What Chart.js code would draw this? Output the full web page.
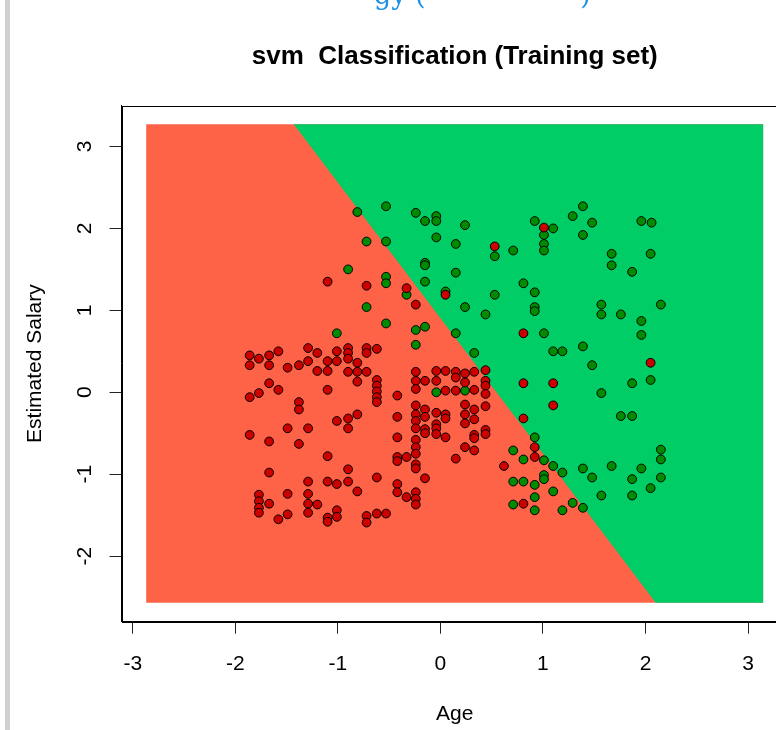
<!DOCTYPE html>
<html><head><meta charset="utf-8">
<script src="https://cdn.jsdelivr.net/npm/chart.js@4"></script>
<style>
html,body{margin:0;padding:0;background:#fff;overflow:hidden;width:776px;height:730px;}
#wrap{position:absolute;left:0;top:0;width:800px;height:730px;}
#bar{position:absolute;left:5px;top:0;width:5px;height:730px;background:#d0d0d0;}
#topclip{position:absolute;left:0;top:0;width:776px;height:13px;overflow:hidden;}
#toptext{position:absolute;left:374px;top:-21px;font:27px 'DejaVu Serif',serif;color:#1a90e6;white-space:pre;}
</style></head><body>
<div id="wrap"><canvas id="c" width="800" height="730"></canvas></div>
<div id="bar"></div>
<div id="topclip"><div id="toptext">gy (                  )</div></div>
<script>
const xTickValues = [-3, -2, -1, 0, 1, 2, 3];
const yTickValues = [-2, -1, 0, 1, 2, 3];
const panelAge = [-2.87, 3.15];
const panelSalary = [-2.57, 3.27];
const boundaryAge = [-1.43, 2.10];
const titleText = 'svm  Classification (Training set)';
const xLabel = 'Age';
const yLabel = 'Estimated Salary';

// class 0 (red) observations: [Age, EstimatedSalary] (scaled)
const class0Points = [
[-1.86,0.45],[-1.86,0.33],[-1.86,-0.06],[-1.86,-0.52],
[-1.77,0.41],[-1.77,-0.01],[-1.77,-1.25],[-1.77,-1.33],[-1.77,-1.41],[-1.77,-1.47],
[-1.67,0.45],[-1.67,0.33],[-1.67,0.11],[-1.67,-0.60],[-1.67,-0.98],[-1.67,-1.36],
[-1.58,0.50],[-1.58,0.03],[-1.58,-1.55],
[-1.49,0.30],[-1.49,-0.44],[-1.49,-1.24],[-1.49,-1.49],
[-1.38,0.33],[-1.38,-0.12],[-1.38,-0.21],[-1.38,-0.63],
[-1.29,0.54],[-1.29,0.38],[-1.29,-0.44],[-1.29,-1.09],[-1.29,-1.24],[-1.29,-1.36],[-1.29,-1.47],
[-1.20,0.48],[-1.20,0.26],[-1.20,-1.37],
[-1.10,1.35],[-1.10,0.38],[-1.10,0.26],[-1.10,0.03],[-1.10,-0.78],[-1.10,-1.09],[-1.10,-1.53],[-1.10,-1.58],
[-1.01,0.50],[-1.01,0.38],[-1.01,-0.35],[-1.01,-1.12],[-1.01,-1.44],[-1.01,-1.52],
[-0.90,0.54],[-0.90,0.48],[-0.90,0.41],[-0.90,0.25],[-0.90,-0.32],[-0.90,-0.44],[-0.90,-0.94],[-0.90,-1.09],
[-0.81,0.36],[-0.81,0.25],[-0.81,0.13],[-0.81,-0.27],[-0.81,-1.21],
[-0.72,1.30],[-0.72,0.54],[-0.72,0.48],[-0.72,0.25],[-0.72,-1.51],[-0.72,-1.59],
[-0.62,0.53],[-0.62,0.15],[-0.62,0.08],[-0.62,0.01],[-0.62,-0.06],[-0.62,-0.12],[-0.62,-1.04],[-0.62,-1.48],
[-0.53,-1.48],
[-0.42,-0.04],[-0.42,-0.30],[-0.42,-0.55],[-0.42,-0.79],[-0.42,-0.84],[-0.42,-1.12],[-0.42,-1.22],
[-0.33,1.27],[-0.33,-0.79],[-0.33,-1.28],
[-0.24,1.07],[-0.24,0.25],[-0.24,0.14],[-0.24,0.04],[-0.24,-0.16],[-0.24,-0.27],[-0.24,-0.35],[-0.24,-0.44],
[-0.24,-0.58],[-0.24,-0.67],[-0.24,-0.75],[-0.24,-0.88],[-0.24,-0.93],[-0.24,-1.22],[-0.24,-1.30],[-0.24,-1.37],
[-0.15,0.14],[-0.15,-0.21],[-0.15,-0.30],[-0.15,-0.45],[-0.15,-0.50],[-0.15,-1.05],
[-0.04,0.26],[-0.04,0.14],[-0.04,-0.25],[-0.04,-0.39],[-0.04,-0.44],[-0.04,-0.51],
[0.05,1.19],[0.05,0.26],[0.05,0.02],[0.05,-0.27],[0.05,-0.32],[0.05,-0.55],
[0.15,0.25],[0.15,0.18],[0.15,0.02],[0.15,-0.81],
[0.24,0.23],[0.24,0.12],[0.24,-0.15],[0.24,-0.27],[0.24,-0.38],[0.24,-0.67],
[0.33,0.25],[0.33,0.03],[0.33,-0.21],[0.33,-0.33],[0.33,-0.52],[0.33,-0.56],[0.33,-0.71],
[0.44,0.27],[0.44,0.14],[0.44,0.08],[0.44,-0.02],[0.44,-0.17],[0.44,-0.46],[0.44,-0.51],
[1.01,2.01],[0.53,1.78],[0.81,0.72],[2.05,0.36],[1.10,0.11],[0.81,0.11],[1.10,-0.16],[0.81,-0.32],
[0.92,-0.67],[0.92,-0.79],[0.62,-0.90],[0.81,-1.36]
];

// class 1 (green) observations
const class1Points = [
[-0.81,2.20],[-0.90,1.50],[-1.01,0.72],[-0.53,2.27],[-0.24,2.19],[-0.15,2.09],[-0.04,2.15],[-0.04,2.09],
[0.24,2.04],[0.92,2.09],[1.10,2.00],[1.01,1.92],[1.01,1.81],[1.01,1.73],[-0.72,1.84],[-0.53,1.84],
[-0.04,1.89],[0.15,1.81],[0.53,1.66],[0.71,1.73],[-0.15,1.58],[-0.15,1.55],[0.15,1.46],[-0.53,1.41],
[-0.53,1.33],[-0.15,1.35],[-0.33,1.19],[0.05,1.23],[0.81,1.33],[0.92,1.22],[0.53,1.19],[-0.72,1.04],
[0.24,1.04],[0.92,1.04],[0.92,0.99],[0.44,0.95],[-0.53,0.84],[-0.15,0.80],[-0.24,0.76],[0.15,0.72],
[1.01,0.72],[-0.24,0.58],[0.33,0.48],[1.10,0.50],[1.39,2.27],[1.29,2.15],[1.48,2.07],[1.39,1.92],
[1.96,2.09],[2.06,2.07],[1.67,1.69],[1.67,1.55],[2.05,1.69],[1.87,1.47],[1.57,1.07],[1.57,0.95],
[1.76,0.95],[2.15,1.07],[1.96,0.87],[1.96,0.70],[1.39,0.56],[1.19,0.50],[1.48,0.33],[1.87,0.11],
[2.05,0.15],[1.57,-0.01],[1.76,-0.29],[1.87,-0.29],[2.15,-0.70],[2.15,-0.82],[1.01,-0.83],[1.10,-0.90],
[1.19,-0.98],[1.39,-0.93],[1.67,-0.90],[1.96,-0.93],[2.15,-1.04],[1.48,-1.04],[1.87,-1.06],[1.01,-1.01],
[1.01,-1.06],[1.10,-1.21],[2.05,-1.17],[1.57,-1.26],[1.87,-1.26],[1.29,-1.35],[1.39,-1.41],[1.19,-1.44],
[-0.04,0.00],[0.24,0.02],[0.71,-0.71],[0.81,-0.82],[0.92,-0.55],[0.71,-1.09],[0.81,-1.09],[0.92,-1.13],
[0.92,-1.28],[0.71,-1.37],[0.92,-1.44]
];

const FONT = "'Liberation Sans', Arial, sans-serif";
const toXY = arr => arr.map(p => ({x: p[0], y: p[1]}));

const framePlugin = {
  id: 'frame',
  afterDraw(chart) {
    const {ctx, chartArea: a} = chart;
    ctx.save();
    ctx.strokeStyle = '#000';
    ctx.lineWidth = 1;
    ctx.strokeRect(Math.round(a.left) + 0.5, Math.round(a.top) + 0.5,
                   Math.round(a.right - a.left), Math.round(a.bottom - a.top));
    ctx.restore();
  }
};

new Chart(document.getElementById('c'), {
  type: 'scatter',
  data: {
    datasets: [
      {
        type: 'line', label: 'class0 region', order: 4,
        data: [{x: panelAge[0], y: panelSalary[1]}, {x: panelAge[1], y: panelSalary[1]}],
        fill: {value: panelSalary[0]}, backgroundColor: '#FF6347',
        borderWidth: 0, borderColor: 'rgba(0,0,0,0)', pointRadius: 0
      },
      {
        type: 'line', label: 'class1 region', order: 3,
        data: [{x: boundaryAge[0], y: panelSalary[1]}, {x: boundaryAge[1], y: panelSalary[0]}, {x: panelAge[1], y: panelSalary[0]}],
        fill: {value: panelSalary[1]}, backgroundColor: '#00CD66',
        borderWidth: 0, borderColor: 'rgba(0,0,0,0)', pointRadius: 0
      },
      {
        label: 'class1', order: 2, data: toXY(class1Points),
        backgroundColor: '#008B00', borderColor: '#000', borderWidth: 1, pointRadius: 4.4
      },
      {
        label: 'class0', order: 1, data: toXY(class0Points),
        backgroundColor: '#CD0000', borderColor: '#000', borderWidth: 1, pointRadius: 4.4
      }
    ]
  },
  options: {
    responsive: false,
    animation: false,
    devicePixelRatio: 1,
    events: [],
    layout: {padding: {left: 0, right: 12, top: 0, bottom: 0}},
    plugins: {
      legend: {display: false},
      tooltip: {enabled: false},
      title: {
        display: true, text: titleText, fullSize: false, color: '#000',
        font: {family: FONT, size: 26, weight: 'bold'},
        padding: {top: 41, bottom: 33.3}
      }
    },
    scales: {
      x: {
        type: 'linear', position: 'bottom', min: -3.11, max: 3.39,
        afterBuildTicks: s => { s.ticks = xTickValues.map(v => ({value: v})); },
        afterFit: s => { s.height = 108.3; },
        ticks: {font: {family: FONT, size: 21}, color: '#000', padding: 17.5, callback: v => String(v)},
        grid: {drawOnChartArea: false, drawTicks: true, tickLength: 12, color: '#222', lineWidth: 1},
        border: {display: true, color: '#000'},
        title: {display: true, text: xLabel, color: '#000', font: {family: FONT, size: 21}, padding: {top: 0, bottom: 3.6}}
      },
      y: {
        type: 'linear', position: 'left', min: -2.80, max: 3.50,
        afterBuildTicks: s => { s.ticks = yTickValues.map(v => ({value: v})); },
        afterFit: s => { s.width = 121.5; },
        ticks: {font: {family: FONT, size: 21}, color: '#000', padding: 15.2, minRotation: 90, maxRotation: 90,
                crossAlign: 'center', callback: v => String(v)},
        grid: {drawOnChartArea: false, drawTicks: true, tickLength: 12, color: '#222', lineWidth: 1},
        border: {display: true, color: '#000'},
        title: {display: true, text: yLabel, color: '#000', font: {family: FONT, size: 21}, padding: {top: 22.4, bottom: 0}}
      }
    }
  },
  plugins: [framePlugin]
});
</script>
</body></html>
